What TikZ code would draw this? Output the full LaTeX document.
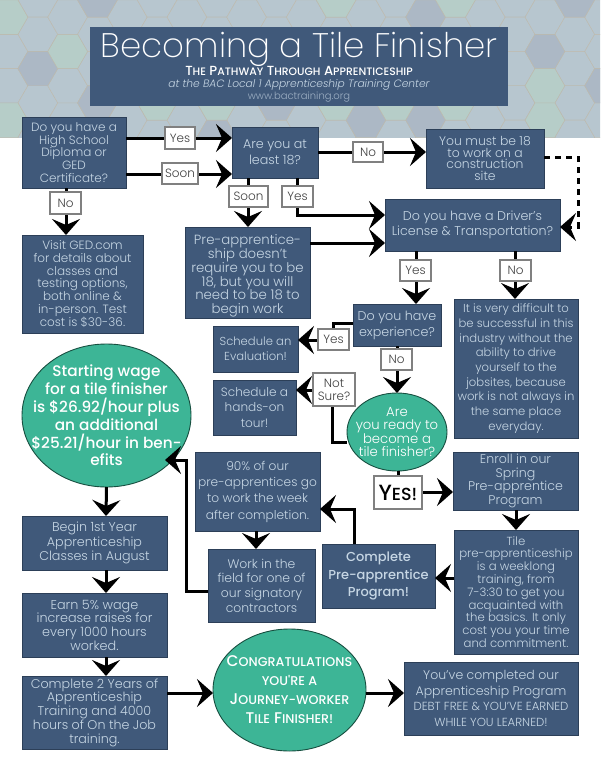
\documentclass[tikz,border=0pt]{standalone}
\usepackage{fontspec}
\setmainfont{Poppins}[UprightFont={* Light},ItalicFont={* Light Italic},BoldFont={* Medium}]
\newfontfamily\heavy{Poppins}[UprightFont={* Medium}]
\newfontfamily\thin{Poppins}[UprightFont={* ExtraLight}]
\usetikzlibrary{arrows.meta,shapes.geometric}
\definecolor{boxblue}{HTML}{40597A}
\definecolor{boxedge}{HTML}{2C3F58}
\definecolor{boxtext}{HTML}{C6D6E4}
\definecolor{teal}{HTML}{3DB596}
\definecolor{tealedge}{HTML}{174F40}
\definecolor{hexbase}{HTML}{B7C6CF}
\definecolor{hexgray}{HTML}{ACB8C5}
\definecolor{hexgreen}{HTML}{B6CDC8}
\definecolor{hexline}{HTML}{BDB9AC}
\def\fs#1#2{\fontsize{#1}{#2}\selectfont}
\def\sm#1{{\fs{10.8}{12}\MakeUppercase{#1}}}
\def\smm#1{{\fs{12.7}{14}\MakeUppercase{#1}}}
\tikzset{
  box/.style={draw=boxedge,fill=boxblue,line width=0.9pt,text=boxtext,align=center,inner sep=0pt,outer sep=0pt},
  oval/.style={ellipse,draw=tealedge,fill=teal,line width=0.9pt,inner sep=0pt,outer sep=0pt},
  ovaltext/.style={text=white,align=center,inner sep=0pt},
  headline/.style={inner sep=0pt,text height=8pt,text depth=2pt},
  tag/.style={draw=black!50,fill=white,line width=1.1pt,text=black!75,align=center,inner sep=0pt,outer sep=0pt},
  arr/.style={line width=3pt,draw=black,-{Stealth[length=16pt,width=28pt,inset=6pt]}},
  hexcell/.style={draw=hexline,line width=0.4pt}
}
\def\bx#1#2#3#4#5#6#7{%
  \pgfmathsetlengthmacro\bw{#4-#2}\pgfmathsetlengthmacro\bh{#5-#3}%
  \node[box,minimum width=\bw,minimum height=\bh,font=#6] (#1) at ({(#2+#4)/2},{(#3+#5)/2}) {#7};}
\def\ov#1#2#3#4#5#6#7{%
  \pgfmathsetlengthmacro\bw{#4-#2}\pgfmathsetlengthmacro\bh{#5-#3}%
  \node[oval,minimum width=\bw,minimum height=\bh] (#1) at ({(#2+#4)/2},{(#3+#5)/2}) {};
  \node[ovaltext,font=#6] (#1t) at (#1.center) {#7};}
\def\lb#1#2#3#4#5#6{%
  \pgfmathsetlengthmacro\bw{#4-#2}\pgfmathsetlengthmacro\bh{#5-#3}%
  \node[tag,minimum width=\bw,minimum height=\bh,font=\fs{12}{13}] (#1) at ({(#2+#4)/2},{(#3+#5)/2}) {#6};}
\def\hexa#1#2#3{%
  \pgfmathsetmacro\hx{8+29.83*#1}\pgfmathsetmacro\hy{(mod(#1,2)==0?17.2:0)+34.3*#2}%
  \filldraw[hexcell,fill=#3] (\hx-19.85,\hy) -- (\hx-9.93,\hy-17.15) -- (\hx+9.93,\hy-17.15) -- (\hx+19.85,\hy) -- (\hx+9.93,\hy+17.15) -- (\hx-9.93,\hy+17.15) -- cycle;}
\begin{document}
\begin{tikzpicture}[x=1pt,y=-1pt]
\useasboundingbox (0,0) rectangle (600,776);
\fill[white] (0,0) rectangle (600,776);
\begin{scope}
\clip (0,1) rectangle (600,137);
\foreach \k in {0,...,20}{\foreach \j in {0,...,4}{\hexa{\k}{\j}{hexbase}}}
\foreach \k/\j in {1/2,3/0,3/3,14/0,18/1,14/3,19/0,20/2,9/3,12/3,7/4}{\hexa{\k}{\j}{hexgray}}
\foreach \k/\j in {0/0,2/1,0/3,5/3,15/0,18/2,18/3,15/3,11/0,11/3,7/3,13/3}{\hexa{\k}{\j}{hexgreen}}
\end{scope}
% header
\node[box,draw=none,minimum width=418pt,minimum height=79pt,anchor=north west] (head) at (90,27) {};
\node[text=white,font=\thin\fs{34}{37},inner sep=0pt,text height=24pt,text depth=5pt] (title) at (299,48.5) {Becoming a Tile Finisher};
\node[headline,text=white,font=\heavy\fs{13.2}{15}] (sub) at (299,72.5) {T\sm{he} P\sm{athway} T\sm{hrough} A\sm{pprenticeship}};
\node[headline,text=boxtext,font=\itshape\fs{10.7}{12}] (at) at (299,85) {at the BAC Local 1 Apprenticeship Training Center};
\node[headline,text=boxtext!70!boxblue,font=\fs{10}{12}] (web) at (299,96.5) {www.bactraining.org};
% boxes
\bx{q1}{22}{117}{126}{188}{\fs{12}{12.7}}{Do you have a\\High School\\Diploma or\\GED\\Certificate?}
\bx{are}{232}{127}{318}{178}{\fs{12.7}{15.5}}{Are you at\\least 18?}
\bx{must}{426}{129}{544}{188}{\fs{12.4}{11.8}}{You must be 18\\to work on a\\construction\\site}
\bx{visit}{22}{235}{143}{333}{\fs{12}{12.8}}{Visit GED.com\\for details about\\classes and\\testing options,\\both online \&\\in-person. Test\\cost is \$30-36.}
\bx{pre}{185}{227}{310}{318}{\fs{13.3}{13.8}}{\rule{0pt}{17pt}Pre-apprentice-\\ship doesn't\\require you to be\\18, but you will\\need to be 18 to\\begin work}
\bx{drive}{385}{199}{560}{251}{\fs{12.7}{15.3}}{Do you have a Driver's\\License \& Transportation?}
\bx{exp}{353}{304}{441}{346}{\fs{12.7}{16}}{Do you have\\experience?}
\bx{hard}{454}{299}{578}{438}{\fs{11.6}{14.7}}{It is very difficult to\\be successful in this\\industry without the\\ability to drive\\yourself to the\\jobsites, because\\work is not always in\\the same place\\everyday.}
\bx{evalb}{213}{326}{298}{372}{\fs{11.6}{15}}{Schedule an\\Evaluation!}
\bx{tour}{213}{380}{296}{435}{\fs{12.1}{15.5}}{Schedule a\\hands-on\\tour!}
\bx{enroll}{453}{452}{578}{510}{\fs{12.6}{13.7}}{Enroll in our\\Spring\\Pre-apprentice\\Program}
\bx{tile}{454}{530}{578}{654}{\fs{11.7}{12.8}}{Tile\\pre-apprenticeship\\is a weeklong\\training, from\\7-3:30 to get you\\acquainted with\\the basics. It only\\cost you your time\\and commitment.}
\bx{comp}{322}{544}{435}{608}{\heavy\fs{13}{17.7}\color{white!90!boxtext}}{Complete\\Pre-apprentice\\Program!}
\bx{ninety}{195}{452}{320}{531}{\fs{12.2}{16.3}}{90\% of our\\pre-apprentices go\\to work the week\\after completion.}
\bx{work}{208}{549}{315}{622}{\fs{12.4}{14.7}}{Work in the\\field for one of\\our signatory\\contractors}
\bx{begin}{22}{516}{167}{570}{\fs{12.7}{14.7}}{Begin 1st Year\\Apprenticeship\\Classes in August}
\bx{earn}{22}{593}{167}{657}{\fs{12.8}{13.7}}{Earn 5\% wage\\increase raises for\\every 1000 hours\\worked.}
\bx{two}{22}{676}{167}{749}{\fs{12.7}{13.7}}{Complete 2 Years of\\Apprenticeship\\Training and 4000\\hours of On the Job\\training.}
\bx{done}{404}{662}{578}{735}{\fs{12.5}{15.6}}{You've completed our\\Apprenticeship Program\\{\fs{11.7}{15.6}DEBT FREE \& YOU'VE EARNED}\\{\fs{11.7}{15.6}WHILE YOU LEARNED!}}
% ovals
\ov{wage}{22}{344}{191}{487}{\heavy\fs{15.3}{17.8}}{Starting wage\\for a tile finisher\\is \$26.92/hour plus\\an additional\\\$25.21/hour in ben-\\efits}
\ov{ready}{347}{393}{447}{471}{\fs{13.2}{13.5}\color{white!80!teal}}{Are\\you ready to\\become a\\tile finisher?}
\ov{cong}{213}{629}{366}{751}{\heavy\fs{15.5}{19}}{C\smm{ongratulations}\\\smm{you're a}\\J\smm{ourney-worker}\\T\smm{ile} F\smm{inisher!}}
\coordinate (wagein) at (165,460);
% connectors
\draw[arr] (q1.east |- 0,138) -- (are.west |- 0,138);
\draw[arr] (q1.east |- 0,174) -- (are.west |- 0,174);
\draw[arr] (are.east |- 0,152) -- (must.west |- 0,152);
\draw[arr,dash pattern=on 6pt off 5pt] (must.east |- 0,157) -| (578,227) -- (drive.east |- 0,227);
\draw[arr] (q1.south -| 66,0) -- (visit.north -| 66,0);
\draw[arr] (are.south -| 248,0) -- (pre.north -| 248,0);
\draw[arr] (are.south -| 297.5,0) |- (drive.west |- 0,215);
\draw[arr] (pre.east |- 0,243) -- (drive.west |- 0,243);
\draw[arr] (drive.south -| 416,0) -- (exp.north -| 416,0);
\draw[arr] (drive.south -| 515,0) -- (hard.north -| 515,0);
\draw[arr] (exp.west |- 0,323) -| (333,340) -- (evalb.east |- 0,340);
\draw[arr] (exp.south -| 397,0) -- (ready.north);
\draw[arr] (ready.west |- 0,442) -| (332,390) -- (tour.east |- 0,390);
\draw[arr] (ready.south -| 398,0) |- (enroll.west |- 0,492);
\draw[arr] (enroll.south -| 516,0) -- (tile.north -| 516,0);
\draw[arr] (tile.west |- 0,578) -- (comp.east |- 0,578);
\draw[arr] (comp.north -| 354,0) |- (ninety.east |- 0,509);
\draw[arr] (ninety.south -| 256,0) -- (work.north -| 256,0);
\draw[arr] (work.west |- 0,591) -| (186,460) -- (wagein);
\draw[arr] (wage.south) -- (begin.north -| 106,0);
\draw[arr] (begin.south -| 106,0) -- (earn.north -| 106,0);
\draw[arr] (earn.south -| 106,0) -- (two.north -| 106,0);
\draw[arr] (two.east |- 0,693) -- (cong.west |- 0,693);
\draw[arr] (cong.east |- 0,693) -- (done.west |- 0,693);
% labels
\lb{l1}{165}{127}{195}{149}{Yes}
\lb{l2}{162}{163}{198}{184}{Soon}
\lb{l3}{353}{142}{383}{162}{No}
\lb{l4}{50}{192}{81}{214}{No}
\lb{l5}{229}{186}{268}{207}{Soon}
\lb{l6}{282}{186}{313}{207}{Yes}
\lb{l7}{400}{260}{431}{281}{Yes}
\lb{l8}{500}{260}{531}{281}{No}
\lb{l9}{318}{329}{349}{350}{Yes}
\lb{l10}{381}{349}{412}{370}{No}
\lb{l11}{313}{373}{355}{406}{Not\\Sure?}
\node[tag,minimum width=48pt,minimum height=33pt,text=black,font=\heavy\fs{22}{24}] (l12) at (398,492.5) {Y{\fs{17.5}{20}\MakeUppercase{es!}}};
\end{tikzpicture}
\end{document}
